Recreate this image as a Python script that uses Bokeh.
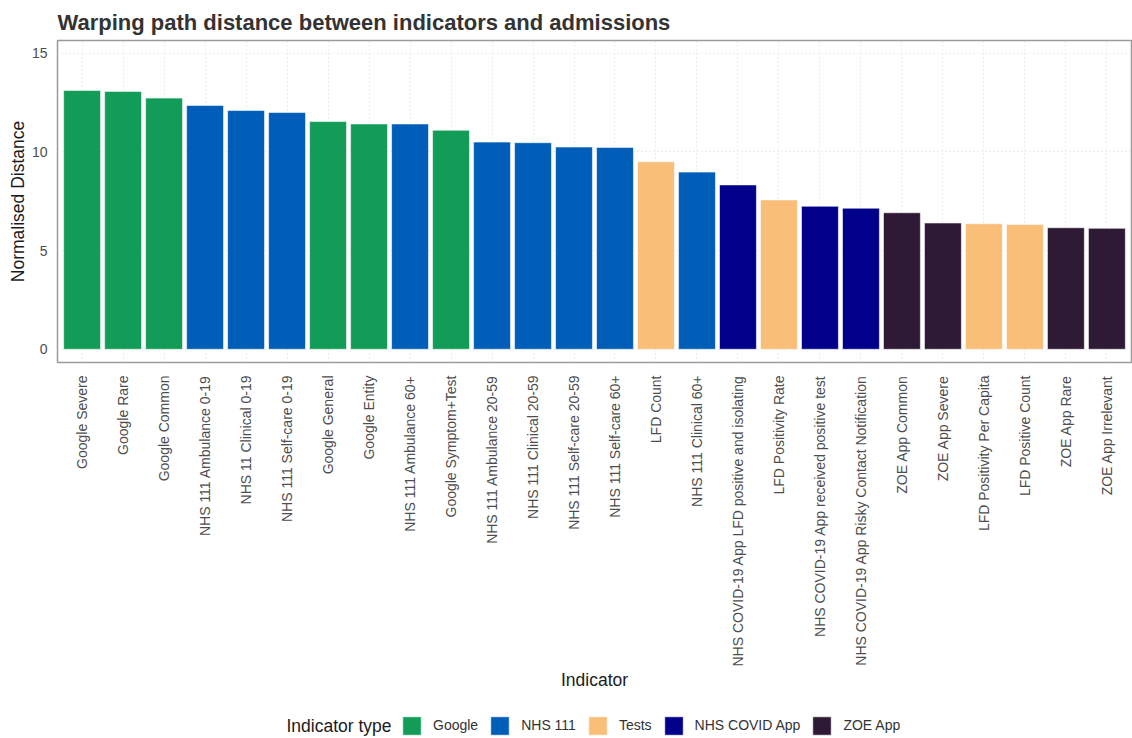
from bokeh.plotting import figure
from bokeh.models import ColumnDataSource, FactorRange, FixedTicker, Legend, LegendItem, Label, Range1d
from bokeh.layouts import column
from bokeh.embed import file_html
from bokeh.resources import INLINE
from bokeh.transform import factor_cmap

indicators = [
    "Google Severe", "Google Rare", "Google Common", "NHS 111 Ambulance 0-19",
    "NHS 11 Clinical 0-19", "NHS 111 Self-care 0-19", "Google General", "Google Entity",
    "NHS 111 Ambulance 60+", "Google Symptom+Test", "NHS 111 Ambulance 20-59",
    "NHS 111 Clinical 20-59", "NHS 111 Self-care 20-59", "NHS 111 Self-care 60+",
    "LFD Count", "NHS 111 Clinical 60+", "NHS COVID-19 App LFD positive and isolating",
    "LFD Positivity Rate", "NHS COVID-19 App received positive test",
    "NHS COVID-19 App Risky Contact Notification", "ZOE App Common", "ZOE App Severe",
    "LFD Positivity Per Capita", "LFD Positive Count", "ZOE App Rare", "ZOE App Irrelevant",
]
distances = [13.12, 13.07, 12.73, 12.36, 12.10, 12.00, 11.54, 11.42, 11.42, 11.10,
             10.50, 10.47, 10.25, 10.23, 9.50, 8.98, 8.33, 7.57, 7.25, 7.15,
             6.92, 6.40, 6.36, 6.33, 6.16, 6.13]
types = ["Google", "Google", "Google", "NHS 111", "NHS 111", "NHS 111", "Google", "Google",
         "NHS 111", "Google", "NHS 111", "NHS 111", "NHS 111", "NHS 111",
         "Tests", "NHS 111", "NHS COVID App", "Tests", "NHS COVID App", "NHS COVID App",
         "ZOE App", "ZOE App", "Tests", "Tests", "ZOE App", "ZOE App"]
type_names = ["Google", "NHS 111", "Tests", "NHS COVID App", "ZOE App"]
type_colors = ["#129C58", "#005EB8", "#F9BE78", "#00008A", "#2F1A36"]
y_ticks = [0, 5, 10, 15]

FONT = "Liberation Sans"
W = 1132
H_MAIN = 700
H_LEG = 38

src = ColumnDataSource(dict(x=indicators, y=distances, t=types))
xr = FactorRange(*indicators, range_padding=0.1, range_padding_units="absolute")
fill = factor_cmap("t", palette=type_colors, factors=type_names)

p = figure(
    x_range=xr, y_range=(-0.67, 15.65),
    width=W, height=H_MAIN,
    output_backend="svg", toolbar_location=None,
    min_border_left=57, min_border_right=1, min_border_top=40, min_border_bottom=338,
)

r = p.vbar(x="x", top="y", bottom=0, width=0.9, source=src,
           fill_color=fill, line_color="white", line_alpha=0.55, line_width=1)

# title
p.title.text = "Warping path distance between indicators and admissions"
p.title.text_font = FONT
p.title.text_font_size = "22px"
p.title.text_font_style = "bold"
p.title.text_color = "#333333"
p.title.standoff = 11
p.title.offset = 0

# frame
p.outline_line_color = "#9a9a9a"
p.outline_line_width = 1.5

# grids
for g in (p.xgrid, p.ygrid):
    g.grid_line_color = "#d9d9d9"
    g.grid_line_dash = "1 3"
    g.grid_line_width = 1
p.ygrid.ticker = FixedTicker(ticks=y_ticks)

# axes
p.yaxis.ticker = FixedTicker(ticks=y_ticks)
p.yaxis.axis_label = "Normalised Distance"
p.xaxis.axis_label = "Indicator"
for ax in (p.xaxis[0], p.yaxis[0]):
    ax.axis_line_color = None
    ax.major_tick_line_color = None
    ax.minor_tick_line_color = None
    ax.major_label_text_font = FONT
    ax.major_label_text_font_size = "14px"
    ax.major_label_text_color = "#4d4d4d"
    ax.axis_label_text_font = FONT
    ax.axis_label_text_font_size = "17.5px"
    ax.axis_label_text_font_style = "normal"
    ax.axis_label_text_color = "#1a1a1a"
p.yaxis.major_label_standoff = 4
p.yaxis.axis_label_standoff = 1
p.xaxis.major_label_orientation = 1.5708
p.xaxis.major_label_standoff = 7
p.xaxis.axis_label_standoff = 0

# legend strip (second figure sharing the category axis, bars out of view)
leg = figure(
    x_range=xr, y_range=Range1d(100, 101),
    width=W, height=H_LEG,
    output_backend="svg", toolbar_location=None,
    min_border_left=0, min_border_right=0, min_border_top=0, min_border_bottom=0,
)
leg.axis.visible = False
leg.grid.visible = False
leg.outline_line_color = None
r2 = leg.vbar(x="x", top="y", bottom=0, width=0.9, source=src,
              fill_color=fill, line_color="white", line_alpha=0.55, line_width=1)

first_idx = [types.index(n) for n in type_names]
legend = Legend(
    items=[LegendItem(label=n, renderers=[r2], index=i) for n, i in zip(type_names, first_idx)],
    orientation="horizontal", location=(343, 1.5),
    label_text_font=FONT, label_text_font_size="14px", label_text_color="#333333",
    glyph_width=23, glyph_height=23, label_standoff=10, spacing=10,
    padding=0, margin=0, border_line_color=None, background_fill_alpha=0,
)
leg.add_layout(legend)

legend_title = Label(
    x=229, y=13, x_units="screen", y_units="screen",
    text="Indicator type", text_font=FONT, text_font_size="17.5px",
    text_color="#1a1a1a", text_baseline="middle", text_align="left",
)
leg.add_layout(legend_title)

layout = column(p, leg, spacing=0)
open("out.html", "w").write(file_html(layout, INLINE))
